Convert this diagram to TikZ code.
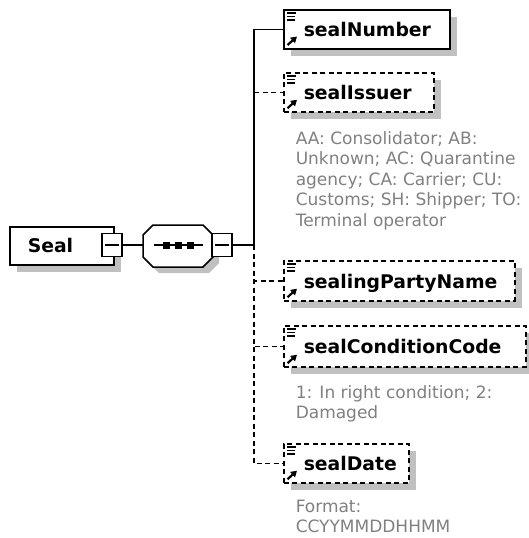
\documentclass[tikz,border=0pt]{standalone}
\usepackage{fontspec}
\setmainfont{DejaVu Sans}
\usetikzlibrary{arrows.meta,shadows}
\definecolor{shadowgray}{RGB}{192,192,192}
\definecolor{notegray}{RGB}{128,128,128}
\begin{document}
\begin{tikzpicture}[x=1pt,y=-1pt,line width=1.5pt,
  shad/.style={drop shadow={shadow xshift=7pt,shadow yshift=-7pt,fill=shadowgray,opacity=1}},
  elbox/.style={draw=black,fill=white,inner sep=0pt,anchor=north west,shad},
  optbox/.style={elbox,line width=1.7pt,dash pattern=on 5pt off 3.5pt},
  dashline/.style={line width=1.7pt,dash pattern=on 5pt off 3.5pt},
  lbl/.style={font=\fontsize{18.8}{22}\selectfont\bfseries,inner sep=0pt,anchor=base west},
  note/.style={font=\fontsize{17}{20.5}\selectfont,text=notegray,inner sep=0pt,anchor=north west,align=left},
  minusbox/.style={draw=black,fill=white,minimum width=20pt,minimum height=23pt,inner sep=0pt,
    path picture={\draw[line width=1.4pt] ([xshift=3pt]path picture bounding box.west) -- ([xshift=-3pt]path picture bounding box.east);}},
  topicon/.pic={\draw[line width=1.5pt] (4,4) -- (13,4) (4,7.5) -- (12,7.5) (4,11) -- (12,11);},
  boticon/.pic={\draw[line width=2.2pt,-{Triangle[length=6pt,width=7pt]}] (4.5,-4.5) -- (14,-13);}
]
\useasboundingbox (0,0) rectangle (528,538);

% root element
\node[elbox,minimum width=104pt,minimum height=38pt] (seal) at (9,226) {};
\node[lbl] (sealtxt) at (27,252) {Seal};
\node[minusbox] (sealm) at (112,245) {};

% sequence compositor
\fill[shadowgray,shift={(6,6)}] (153,225) -- (203,225) -- (213,235) -- (213,257) -- (203,267) -- (153,267) -- (143,257) -- (143,235) -- cycle;
\draw[fill=white] (153,225) -- (203,225) -- (213,235) -- (213,257) -- (203,267) -- (153,267) -- (143,257) -- (143,235) -- cycle;
\coordinate (seqw) at (143,245);
\draw (154,245) -- (203,245);
\foreach \dx in {166,178,190} \fill (\dx-3.5,241.5) rectangle (\dx+3.5,248.5);
\node[minusbox] (seqm) at (222,245) {};

% spine
\coordinate (mid) at (254,245);
\draw (sealm.east) -- (seqw);
\draw (seqm.east) -- (mid);

% children
\node[elbox,minimum width=166pt,minimum height=39pt] (num) at (283,9) {};
\node[optbox,minimum width=150pt,minimum height=39pt] (iss) at (283,72) {};
\node[optbox,minimum width=231pt,minimum height=40pt] (party) at (283,260) {};
\node[optbox,minimum width=242pt,minimum height=41pt] (cond) at (283,325) {};
\node[optbox,minimum width=125pt,minimum height=39pt] (date) at (283,443) {};

\foreach \b in {num,iss,party,cond,date} {
  \pic at (\b.north west) {topicon};
  \pic at (\b.south west) {boticon};
}

\draw[dashline] (mid) |- (date.west);
\draw[dashline] (mid) |- (cond.west);
\draw[dashline] (mid) |- (party.west);
\draw[dashline] (mid) |- (iss.west);
\draw (mid) |- (num.west);

\node[lbl] (numtxt) at ([xshift=20pt,yshift=-7.5pt]num.west) {sealNumber};
\node[lbl] (isstxt) at ([xshift=20pt,yshift=-7.5pt]iss.west) {sealIssuer};
\node[lbl] (partytxt) at ([xshift=20pt,yshift=-7.5pt]party.west) {sealingPartyName};
\node[lbl] (condtxt) at ([xshift=20pt,yshift=-7.5pt]cond.west) {sealConditionCode};
\node[lbl] (datetxt) at ([xshift=20pt,yshift=-7.5pt]date.west) {sealDate};

% annotations
\node[note] (issnote) at (295,130.5) {AA: Consolidator; AB:\\Unknown; AC: Quarantine\\agency; CA: Carrier; CU:\\Customs; SH: Shipper; TO:\\Terminal operator};
\node[note] (condnote) at (295,384.5) {1: In right condition; 2:\\Damaged};
\node[note] (datenote) at (295,499) {Format:\\CCYYMMDDHHMM};
\end{tikzpicture}
\end{document}
